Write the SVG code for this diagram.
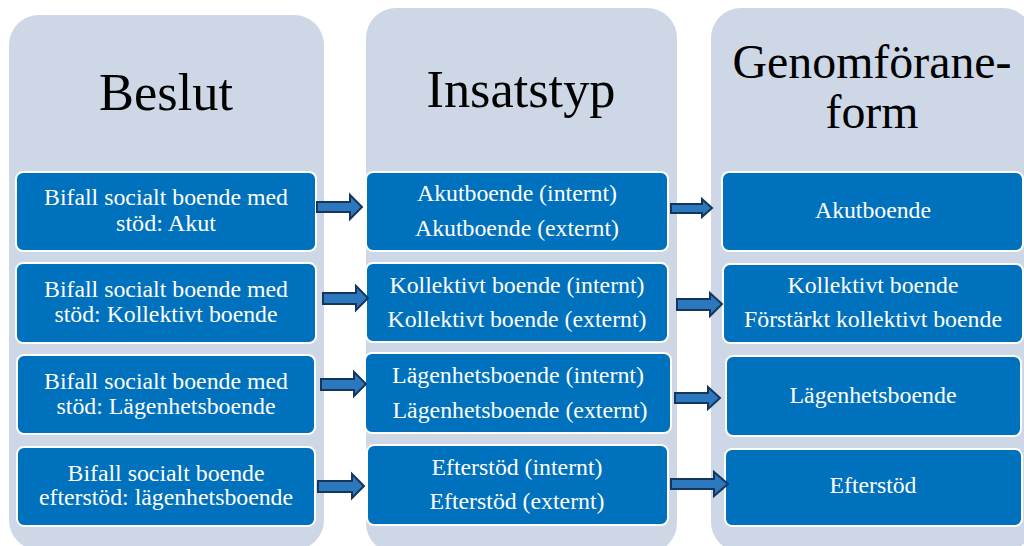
<svg xmlns="http://www.w3.org/2000/svg" width="1024" height="546" viewBox="0 0 1024 546">
<style>
.panel{fill:#CDD7E6;}
.box{fill:#0071BC;stroke:#FFFFFF;stroke-width:2;}
text{font-family:'Liberation Serif','Times New Roman',Times,Tinos,'Nimbus Roman','Nimbus Roman No9 L',FreeSerif,'DejaVu Serif','Noto Serif',Georgia,serif;}
.hd{fill:#000000;text-anchor:middle;}
.bt{font-size:24px;fill:#FFFFFF;text-anchor:middle;}
.arr{fill:#2B78BE;stroke:#15365A;stroke-width:2;stroke-linejoin:miter;}
</style>
<rect width="1024" height="546" fill="#FFFFFF"/>
<g id="col-beslut">
<rect class="panel" x="9" y="15" width="315" height="535" rx="30"/>
<text class="hd" x="166" y="110" font-size="52" textLength="134" lengthAdjust="spacingAndGlyphs">Beslut</text>
</g>
<g id="col-insatstyp">
<rect class="panel" x="366" y="8" width="311" height="545" rx="30"/>
<text class="hd" x="521" y="107" font-size="52" textLength="189" lengthAdjust="spacingAndGlyphs">Insatstyp</text>
</g>
<g id="col-genomforande">
<rect class="panel" x="711" y="8" width="322" height="544" rx="30"/>
<text class="hd" x="872" y="78" font-size="48" textLength="279" lengthAdjust="spacingAndGlyphs">Genomförane-</text>
<text class="hd" x="872" y="128" font-size="48" textLength="93" lengthAdjust="spacingAndGlyphs">form</text>
</g>
<g id="b1">
<rect class="box" x="16" y="172" width="300" height="79" rx="7"/>
<text class="bt" x="166" y="205" textLength="244" lengthAdjust="spacingAndGlyphs">Bifall socialt boende med</text>
<text class="bt" x="166" y="231" textLength="100" lengthAdjust="spacingAndGlyphs">stöd: Akut</text>
</g>
<g id="b2">
<rect class="box" x="16" y="263" width="300" height="80" rx="7"/>
<text class="bt" x="166" y="297" textLength="244" lengthAdjust="spacingAndGlyphs">Bifall socialt boende med</text>
<text class="bt" x="166" y="322" textLength="223" lengthAdjust="spacingAndGlyphs">stöd: Kollektivt boende</text>
</g>
<g id="b3">
<rect class="box" x="17" y="355" width="298" height="79" rx="7"/>
<text class="bt" x="166" y="389" textLength="244" lengthAdjust="spacingAndGlyphs">Bifall socialt boende med</text>
<text class="bt" x="166" y="414" textLength="219" lengthAdjust="spacingAndGlyphs">stöd: Lägenhetsboende</text>
</g>
<g id="b4">
<rect class="box" x="17" y="447" width="298" height="79" rx="7"/>
<text class="bt" x="166" y="481" textLength="197" lengthAdjust="spacingAndGlyphs">Bifall socialt boende</text>
<text class="bt" x="166" y="505" textLength="254" lengthAdjust="spacingAndGlyphs">efterstöd: lägenhetsboende</text>
</g>
<g id="i1">
<rect class="box" x="366" y="172" width="302" height="79" rx="7"/>
<text class="bt" x="517" y="201" textLength="200" lengthAdjust="spacingAndGlyphs">Akutboende (internt)</text>
<text class="bt" x="517" y="236" textLength="204" lengthAdjust="spacingAndGlyphs">Akutboende (externt)</text>
</g>
<g id="i2">
<rect class="box" x="366" y="263" width="302" height="79" rx="7"/>
<text class="bt" x="517" y="293" textLength="255" lengthAdjust="spacingAndGlyphs">Kollektivt boende (internt)</text>
<text class="bt" x="517" y="327" textLength="259" lengthAdjust="spacingAndGlyphs">Kollektivt boende (externt)</text>
</g>
<g id="i3">
<rect class="box" x="365" y="353" width="306" height="80" rx="7"/>
<text class="bt" x="518" y="383" textLength="252" lengthAdjust="spacingAndGlyphs">Lägenhetsboende (internt)</text>
<text class="bt" x="520" y="418" textLength="255" lengthAdjust="spacingAndGlyphs">Lägenhetsboende (externt)</text>
</g>
<g id="i4">
<rect class="box" x="367" y="445" width="301" height="80" rx="7"/>
<text class="bt" x="517" y="475" textLength="171" lengthAdjust="spacingAndGlyphs">Efterstöd (internt)</text>
<text class="bt" x="517" y="509" textLength="175" lengthAdjust="spacingAndGlyphs">Efterstöd (externt)</text>
</g>
<g id="g1">
<rect class="box" x="722" y="172" width="301" height="79" rx="7"/>
<text class="bt" x="873" y="218" textLength="116" lengthAdjust="spacingAndGlyphs">Akutboende</text>
</g>
<g id="g2">
<rect class="box" x="723" y="264" width="300" height="79" rx="7"/>
<text class="bt" x="873" y="293" textLength="171" lengthAdjust="spacingAndGlyphs">Kollektivt boende</text>
<text class="bt" x="873" y="327" textLength="258" lengthAdjust="spacingAndGlyphs">Förstärkt kollektivt boende</text>
</g>
<g id="g3">
<rect class="box" x="726" y="356" width="295" height="80" rx="7"/>
<text class="bt" x="873" y="403" textLength="167" lengthAdjust="spacingAndGlyphs">Lägenhetsboende</text>
</g>
<g id="g4">
<rect class="box" x="725" y="449" width="297" height="77" rx="7"/>
<text class="bt" x="873" y="493" textLength="87" lengthAdjust="spacingAndGlyphs">Efterstöd</text>
</g>
<g id="connectors">
<path class="arr" d="M317,202 H350 V195 L362,207 L350,219 V212 H317 Z"/>
<path class="arr" d="M323,293 H356 V286 L368,298 L356,310 V304 H323 Z"/>
<path class="arr" d="M321,379 H354 V372 L366,384 L354,396 V390 H321 Z"/>
<path class="arr" d="M318,481 H352 V474 L364,486 L352,498 V492 H318 Z"/>
<path class="arr" d="M671,204 H702 V199 L712,208 L702,217 V213 H671 Z"/>
<path class="arr" d="M677,299 H710 V293 L722,304 L710,316 V310 H677 Z"/>
<path class="arr" d="M675,393 H708 V387 L720,398 L708,409 V403 H675 Z"/>
<path class="arr" d="M671,479 H714 V472 L728,484 L714,496 V489 H671 Z"/>
</g>
</svg>
